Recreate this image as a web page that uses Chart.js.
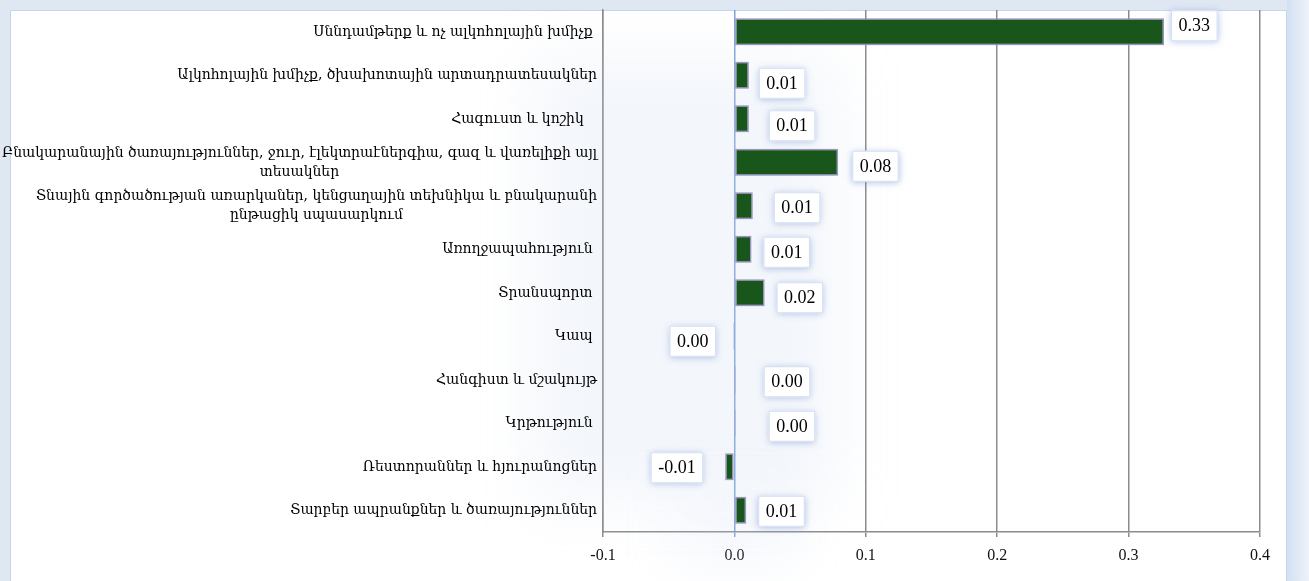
<!DOCTYPE html>
<html>
<head>
<meta charset="utf-8">
<script src="https://cdn.jsdelivr.net/npm/chart.js@4/dist/chart.umd.min.js"></script>
<style>
    html, body { margin: 0; padding: 0; width: 1309px; height: 581px; overflow: hidden; background: #dfe7f3; }
    #panel { position: absolute; left: 10px; top: 10px; width: 1275px; height: 580px; background: #fff; border: 1px solid #c4d5ee; }
    #strip { position: absolute; left: 1287px; top: 0; width: 22px; height: 581px; background: linear-gradient(90deg, #d3e0f2, #eef3fa); }
    canvas { position: absolute; left: 0; top: 0; }
</style>
</head>
<body>
<div id="panel"></div>
<div id="strip"></div>
<canvas id="cpiChart" width="1309" height="581"></canvas>
<script>
// categories (top to bottom)
const categories = [
    'Սննդամթերք և ոչ ալկոհոլային խմիչք ',
    'Ալկոհոլային խմիչք, ծխախոտային արտադրատեսակներ',
    'Հագուստ և կոշիկ   ',
    ['Բնակարանային ծառայություններ, ջուր, էլեկտրաէներգիա, գազ և վառելիքի այլ', 'տեսակներ'],
    ['Տնային գործածության առարկաներ, կենցաղային տեխնիկա և բնակարանի', 'ընթացիկ սպասարկում'],
    'Առողջապահություն ',
    'Տրանսպորտ ',
    'Կապ ',
    'Հանգիստ և մշակույթ',
    'Կրթություն ',
    'Ռեստորաններ և հյուրանոցներ',
    'Տարբեր ապրանքներ և ծառայություններ'
];
const values = [0.327, 0.011, 0.011, 0.079, 0.014, 0.013, 0.023, -0.001, 0.001, 0.001, -0.007, 0.009];

const xTickValues = [-0.1, 0, 0.1, 0.2, 0.3, 0.4];
const xTickLabels = ['-0.1', '0.0', '0.1', '0.2', '0.3', '0.4'];

// where the value boxes sit next to each bar (px)
const labelGap = [7, 10, 20, 14, 21, 12, 12, 17, 28, 33, 22, 12];
const labelShift = [-6, 8, 7, 4, 2, 3, 5, 5, 2, 3, 1, 1];

const labelFont = "'DejaVu Serif Condensed', 'DejaVu Serif', serif";
const numFont = "'Liberation Serif', 'Times New Roman', serif";

function fmt(v) {
    if (Math.abs(v) < 0.005) return '0.00';
    return v.toFixed(2);
}

const hazePlugin = {
    id: 'haze',
    beforeDatasetsDraw(chart) {
        const ctx = chart.ctx;
        const x0 = chart.scales.x.getPixelForValue(0);
        ctx.save();
        ctx.filter = 'blur(30px)';
        ctx.fillStyle = 'rgba(200, 214, 238, 0.22)';
        ctx.fillRect(x0 - 200, 60, 300, 440);
        ctx.fillStyle = 'rgba(200, 214, 238, 0.2)';
        ctx.fillRect(x0 - 60, 500, 120, 60);
        ctx.restore();
        ctx.save();
        ctx.shadowColor = 'rgba(120, 145, 200, 0.45)';
        ctx.shadowBlur = 8;
        ctx.shadowOffsetY = 2;
    },
    afterDatasetsDraw(chart) {
        chart.ctx.restore();
    }
};

const categoryLabelPlugin = {
    id: 'categoryLabels',
    afterDraw(chart) {
        const ctx = chart.ctx;
        const yScale = chart.scales.y;
        const right = 597;
        ctx.save();
        let fs = 15.5;
        ctx.font = fs + 'px ' + labelFont;
        let widest = 0;
        categories.forEach(c => {
            (Array.isArray(c) ? c : [c]).forEach(l => { widest = Math.max(widest, ctx.measureText(l).width); });
        });
        if (widest > 596) fs = fs * 596 / widest;
        ctx.font = fs + 'px ' + labelFont;
        ctx.fillStyle = '#000';
        ctx.textBaseline = 'middle';
        categories.forEach((c, i) => {
            const cy = yScale.getPixelForValue(i);
            if (Array.isArray(c)) {
                const w = Math.max(...c.map(l => ctx.measureText(l).width));
                ctx.textAlign = 'center';
                c.forEach((l, k) => {
                    ctx.fillText(l, right - w / 2, cy + (k - (c.length - 1) / 2) * 19);
                });
            } else {
                ctx.textAlign = 'right';
                ctx.fillText(c, right, cy);
            }
        });
        ctx.restore();
    }
};

const valueBoxPlugin = {
    id: 'valueBoxes',
    afterDatasetsDraw(chart) {
        const ctx = chart.ctx;
        const meta = chart.getDatasetMeta(0);
        ctx.save();
        ctx.font = '18px ' + numFont;
        meta.data.forEach((bar, i) => {
            const v = values[i];
            const txt = fmt(v);
            const w = ctx.measureText(txt).width + 15;
            const h = 31;
            const cy = bar.y + labelShift[i];
            let left;
            if (v < 0) {
                left = Math.min(bar.x, bar.base) - labelGap[i] - w;
            } else {
                left = Math.max(bar.x, bar.base) + labelGap[i];
            }
            ctx.save();
            ctx.shadowColor = 'rgba(110, 140, 205, 0.55)';
            ctx.shadowBlur = 7;
            ctx.shadowOffsetY = 1;
            ctx.fillStyle = '#ffffff';
            ctx.fillRect(left, cy - h / 2, w, h);
            ctx.restore();
            ctx.strokeStyle = 'rgba(205, 218, 240, 0.9)';
            ctx.lineWidth = 1;
            ctx.strokeRect(left + 0.5, cy - h / 2 + 0.5, w - 1, h - 1);
            ctx.fillStyle = '#000';
            ctx.textAlign = 'center';
            ctx.textBaseline = 'middle';
            ctx.fillText(txt, left + w / 2, cy + 1);
        });
        ctx.restore();
    }
};

document.addEventListener('DOMContentLoaded', function () {
    const canvas = document.getElementById('cpiChart');

    new Chart(canvas, {
        type: 'bar',
        data: {
            labels: categories,
            datasets: [{
                data: values,
                backgroundColor: '#18561c',
                borderColor: '#a394c2',
                borderWidth: 1.5,
                borderSkipped: false,
                categoryPercentage: 1.0,
                barPercentage: 0.62
            }]
        },
        options: {
            indexAxis: 'y',
            responsive: false,
            animation: false,
            devicePixelRatio: 1,
            layout: { padding: { left: 603, right: 49, top: 10, bottom: 0 } },
            plugins: {
                legend: { display: false },
                tooltip: { enabled: false }
            },
            scales: {
                x: {
                    min: -0.1,
                    max: 0.4,
                    afterBuildTicks: (s) => { s.ticks = xTickValues.map(v => ({ value: v })); },
                    afterFit: (s) => { s.height = 49; },
                    ticks: {
                        callback: (v) => xTickLabels[xTickValues.findIndex(t => Math.abs(t - v) < 1e-9)],
                        font: { family: numFont, size: 16 },
                        color: '#111',
                        padding: 9,
                        maxRotation: 0
                    },
                    grid: {
                        color: (c) => (c.tick && Math.abs(c.tick.value) < 1e-9) ? '#7ea5dc' : '#8c8c8c',
                        lineWidth: 1.5,
                        tickLength: 5,
                        drawOnChartArea: true
                    },
                    border: { display: true, color: '#8c8c8c', width: 1.5 }
                },
                y: {
                    ticks: { display: false },
                    grid: { display: false },
                    afterFit: (s) => { s.width = 0; },
                    border: { display: true, color: '#8c8c8c', width: 1.5 }
                }
            }
        },
        plugins: [hazePlugin, valueBoxPlugin, categoryLabelPlugin]
    });
});
</script>
</body>
</html>
